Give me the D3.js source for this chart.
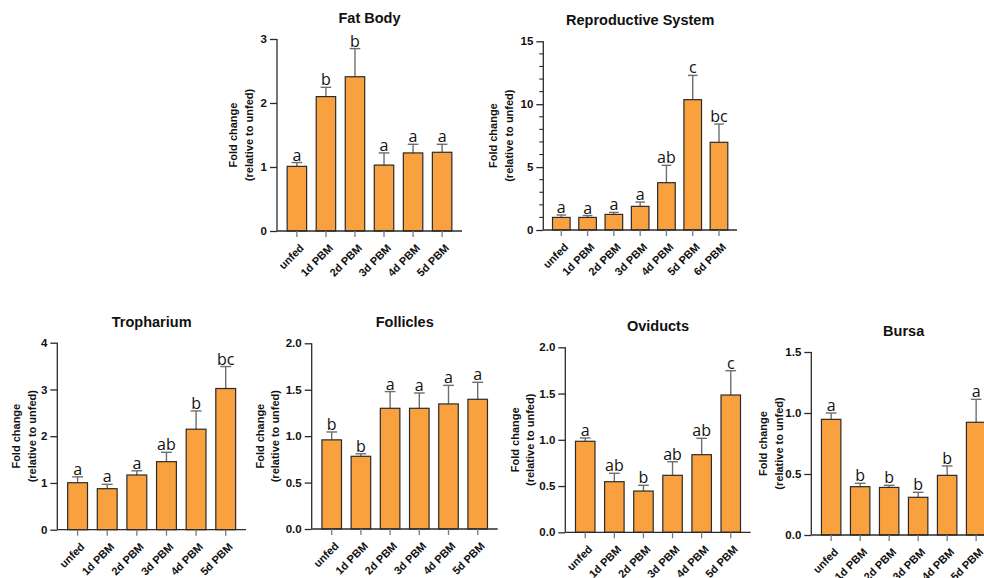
<!DOCTYPE html>
<html>
<head>
<meta charset="utf-8">
<script src="https://cdn.jsdelivr.net/npm/d3@7/dist/d3.min.js"></script>
<style>
  html, body { margin: 0; padding: 0; background: #fff; }
  svg { display: block; }
</style>
</head>
<body>
<svg id="chart" width="984" height="578"></svg>
<script>
// ---------------- DATA ----------------
const categories6 = ["unfed", "1d PBM", "2d PBM", "3d PBM", "4d PBM", "5d PBM"];
const categories7 = ["unfed", "1d PBM", "2d PBM", "3d PBM", "4d PBM", "5d PBM", "6d PBM"];

const fatBodyMean    = [1.01, 2.10, 2.41, 1.03, 1.22, 1.23];
const fatBodyErr     = [0.06, 0.145, 0.44, 0.19, 0.135, 0.125];
const fatBodyLetters = ["a", "b", "b", "a", "a", "a"];

const reproMean      = [1.00, 1.00, 1.24, 1.88, 3.76, 10.36, 6.97];
const reproErr       = [0.19, 0.15, 0.16, 0.34, 1.38, 1.93, 1.45];
const reproLetters   = ["a", "a", "a", "a", "ab", "c", "bc"];

const tropMean       = [1.005, 0.877, 1.17, 1.455, 2.15, 3.02];
const tropErr        = [0.125, 0.093, 0.09, 0.20, 0.39, 0.47];
const tropLetters    = ["a", "a", "a", "ab", "b", "bc"];

const follMean       = [0.96, 0.783, 1.30, 1.30, 1.347, 1.397];
const follErr        = [0.085, 0.027, 0.18, 0.165, 0.20, 0.183];
const follLetters    = ["b", "b", "a", "a", "a", "a"];

const oviMean        = [0.984, 0.547, 0.446, 0.616, 0.839, 1.484];
const oviErr         = [0.036, 0.091, 0.062, 0.147, 0.177, 0.263];
const oviLetters     = ["a", "ab", "b", "ab", "ab", "c"];

const bursaMean      = [0.948, 0.396, 0.39, 0.309, 0.489, 0.924];
const bursaErr       = [0.052, 0.028, 0.017, 0.041, 0.077, 0.188];
const bursaLetters   = ["a", "b", "b", "b", "b", "a"];

const yTicks3   = [0, 1, 2, 3];
const yTicks15  = [0, 5, 10, 15];
const yTicks4   = [0, 1, 2, 3, 4];
const yTicks2   = [0, 0.5, 1.0, 1.5, 2.0];
const yTicks1_5 = [0, 0.5, 1.0, 1.5];

const yLabelLines = ["Fold change", "(relative to unfed)"];

// ---------------- LAYOUT ----------------
const panels = [
  { title: "Fat Body", cats: categories6, mean: fatBodyMean, err: fatBodyErr, letters: fatBodyLetters,
    left: 277, right: 462, top: 39, bottom: 231, max: 3, ticks: yTicks3, fmt: "d", minor: null, labelOff: 44 },
  { title: "Reproductive System", cats: categories7, mean: reproMean, err: reproErr, letters: reproLetters,
    left: 543.3, right: 737, top: 41.3, bottom: 230, max: 15, ticks: yTicks15, fmt: "d", minor: 1, labelOff: 50 },
  { title: "Tropharium", cats: categories6, mean: tropMean, err: tropErr, letters: tropLetters,
    left: 57.3, right: 246, top: 342.7, bottom: 529.7, max: 4, ticks: yTicks4, fmt: "d", minor: null, labelOff: 41 },
  { title: "Follicles", cats: categories6, mean: follMean, err: follErr, letters: follLetters,
    left: 311.7, right: 497.7, top: 343.3, bottom: 529, max: 2, ticks: yTicks2, fmt: ".1f", minor: null, labelOff: 52 },
  { title: "Oviducts", cats: categories6, mean: oviMean, err: oviErr, letters: oviLetters,
    left: 565.3, right: 750.7, top: 347.3, bottom: 532.3, max: 2, ticks: yTicks2, fmt: ".1f", minor: null, labelOff: 50.5 },
  { title: "Bursa", cats: categories6, mean: bursaMean, err: bursaErr, letters: bursaLetters,
    left: 811.3, right: 996, top: 352, bottom: 535, max: 1.5, ticks: yTicks1_5, fmt: ".1f", minor: null, labelOff: 48 }
];

const BAR_FILL = "#F9A13F";
const BAR_STROKE = "#2b2b2b";
const ERR_COLOR = "#6e6e6e";
const AXIS_COLOR = "#2b2b2b";
const XTICK_COLOR = "#7a7a7a";
const SANS = "'Liberation Sans', Arial, Helvetica, sans-serif";

const svg = d3.select("#chart");

panels.forEach(p => {
  const g = svg.append("g");
  const x = d3.scaleBand().domain(p.cats).range([p.left, p.right])
    .paddingInner(0.33).paddingOuter(0.35);
  const y = d3.scaleLinear().domain([0, p.max]).range([p.bottom, p.top]);
  const data = p.cats.map((c, i) => ({ c, m: p.mean[i], e: p.err[i], l: p.letters[i] }));

  // error bars (drawn first, bars on top)
  const capW = x.bandwidth() * 0.55;
  const eg = g.append("g");
  eg.selectAll("line.v").data(data).join("line")
    .attr("x1", d => x(d.c) + x.bandwidth() / 2).attr("x2", d => x(d.c) + x.bandwidth() / 2)
    .attr("y1", d => y(d.m)).attr("y2", d => y(d.m + d.e))
    .attr("stroke", ERR_COLOR).attr("stroke-width", 1.4);
  eg.selectAll("line.cap").data(data).join("line")
    .attr("x1", d => x(d.c) + x.bandwidth() / 2 - capW / 2).attr("x2", d => x(d.c) + x.bandwidth() / 2 + capW / 2)
    .attr("y1", d => y(d.m + d.e)).attr("y2", d => y(d.m + d.e))
    .attr("stroke", ERR_COLOR).attr("stroke-width", 1.4);

  // bars
  g.append("g").selectAll("rect").data(data).join("rect")
    .attr("x", d => x(d.c)).attr("width", x.bandwidth())
    .attr("y", d => y(d.m)).attr("height", d => y(0) - y(d.m))
    .attr("fill", BAR_FILL).attr("stroke", BAR_STROKE).attr("stroke-width", 1.2);

  // letters
  g.append("g").selectAll("text").data(data).join("text")
    .attr("x", d => x(d.c) + x.bandwidth() / 2)
    .attr("y", d => y(d.m + d.e) - 2)
    .attr("text-anchor", "middle")
    .style("font-family", "'Open Sans', 'Noto Sans', sans-serif")
    .style("font-size", "16px")
    .attr("fill", "#111")
    .text(d => d.l);

  // y axis
  const yAxis = d3.axisLeft(y).tickValues(p.ticks).tickSize(7).tickPadding(3)
    .tickFormat(d3.format(p.fmt));
  const ya = g.append("g").attr("transform", `translate(${p.left},0)`).call(yAxis);
  ya.select(".domain").attr("stroke", AXIS_COLOR).attr("stroke-width", 1.3)
    .attr("d", `M-0,${p.bottom}V${p.top}`);
  ya.selectAll(".tick line").attr("stroke", AXIS_COLOR).attr("stroke-width", 1.3);
  ya.selectAll(".tick text").style("font-family", SANS).style("font-weight", "bold")
    .style("font-size", "11.5px").attr("fill", "#111");

  if (p.minor) {
    const minorVals = d3.range(0, p.max + 1e-9, p.minor).filter(v => !p.ticks.includes(v));
    g.append("g").selectAll("line").data(minorVals).join("line")
      .attr("x1", p.left - 4).attr("x2", p.left)
      .attr("y1", d => y(d)).attr("y2", d => y(d))
      .attr("stroke", AXIS_COLOR).attr("stroke-width", 1.1);
  }

  // x axis
  const xAxis = d3.axisBottom(x).tickSize(6).tickFormat("");
  const xa = g.append("g").attr("transform", `translate(0,${p.bottom})`).call(xAxis);
  xa.select(".domain").attr("stroke", AXIS_COLOR).attr("stroke-width", 1.3)
    .attr("d", `M${p.left},0H${p.right}`);
  xa.selectAll(".tick line").attr("stroke", XTICK_COLOR).attr("stroke-width", 1.3);

  // category labels rotated
  g.append("g").selectAll("text").data(p.cats).join("text")
    .attr("transform", c => `translate(${x(c) + x.bandwidth() / 2 + 5},${p.bottom + 15}) rotate(-45)`)
    .attr("text-anchor", "end")
    .attr("dy", "0.35em")
    .style("font-family", SANS).style("font-weight", "bold").style("font-size", "11px")
    .attr("fill", "#111")
    .text(c => c);

  // title
  g.append("text")
    .attr("x", (p.left + p.right) / 2).attr("y", p.top - 16)
    .attr("text-anchor", "middle")
    .style("font-family", SANS).style("font-weight", "bold").style("font-size", "14.5px")
    .attr("fill", "#111")
    .text(p.title);

  // y label
  const cy = (p.top + p.bottom) / 2;
  yLabelLines.forEach((t, i) => {
    g.append("text")
      .attr("transform", `translate(${p.left - p.labelOff + i * 15.5},${cy}) rotate(-90)`)
      .attr("text-anchor", "middle")
      .attr("dominant-baseline", "central")
      .style("font-family", SANS).style("font-weight", "bold").style("font-size", "11px")
      .attr("fill", "#111")
      .text(t);
  });
});
</script>
</body>
</html>
